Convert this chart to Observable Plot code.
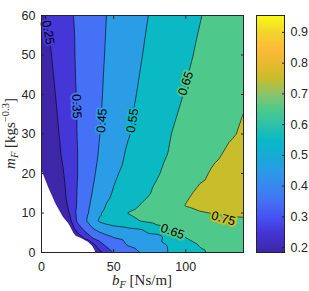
<!DOCTYPE html>
<html><head><meta charset="utf-8">
<script src="https://cdn.jsdelivr.net/npm/d3@7"></script>
<script src="https://cdn.jsdelivr.net/npm/@observablehq/plot@0.6"></script>
<style>
html,body{margin:0;padding:0;background:#fff;}
#wrap{position:relative;width:309px;height:291px;overflow:hidden;background:#fff;}
#wrap svg{position:absolute;top:0;}
</style></head><body><div id="wrap"></div>
<script>
// grid columns (b_F, Ns/m) and rows (m_F)
const bValues = [0,5,10,15,20,25,30,35,40,45,50,60,70,80,90,100,110,120,130,140];
const mValues = [0,2,4,6,8,10,12,15,20,25,30,40,50,60];
// values, one row per mValues entry
const zRows = [
 [0.2,0.2,0.2,0.2,0.2,0.2,0.2,0.2,0.22,0.283,0.355,0.408,0.461,0.513,0.562,0.602,0.638,0.668,0.683,0.69],
 [0.2,0.2,0.2,0.2,0.2,0.2,0.2,0.21,0.31,0.374,0.403,0.457,0.49,0.526,0.564,0.612,0.657,0.675,0.685,0.69],
 [0.2,0.2,0.2,0.2,0.2,0.21,0.27,0.363,0.397,0.43,0.456,0.478,0.505,0.52,0.597,0.655,0.678,0.692,0.7,0.705],
 [0.2,0.2,0.2,0.2,0.2,0.29,0.383,0.44,0.485,0.515,0.527,0.54,0.556,0.615,0.668,0.69,0.703,0.712,0.718,0.722],
 [0.2,0.2,0.2,0.2,0.235,0.37,0.43,0.505,0.558,0.575,0.59,0.623,0.656,0.685,0.705,0.718,0.727,0.733,0.737,0.74],
 [0.2,0.2,0.2,0.2,0.26,0.375,0.42,0.478,0.54,0.572,0.598,0.652,0.682,0.707,0.725,0.738,0.745,0.753,0.758,0.762],
 [0.2,0.2,0.2,0.215,0.275,0.36,0.414,0.465,0.512,0.554,0.575,0.617,0.657,0.69,0.72,0.752,0.768,0.775,0.778,0.78],
 [0.2,0.2,0.205,0.232,0.285,0.357,0.402,0.45,0.49,0.53,0.558,0.594,0.629,0.666,0.703,0.737,0.765,0.78,0.787,0.79],
 [0.2,0.205,0.22,0.246,0.29,0.35,0.392,0.433,0.47,0.502,0.535,0.578,0.612,0.643,0.676,0.707,0.735,0.762,0.778,0.785],
 [0.2,0.21,0.228,0.26,0.305,0.35,0.386,0.421,0.455,0.483,0.51,0.562,0.598,0.627,0.658,0.687,0.714,0.739,0.76,0.772],
 [0.2,0.213,0.235,0.27,0.312,0.353,0.384,0.415,0.447,0.474,0.497,0.544,0.585,0.618,0.65,0.678,0.703,0.725,0.743,0.757],
 [0.205,0.225,0.252,0.287,0.322,0.356,0.384,0.412,0.439,0.463,0.485,0.528,0.566,0.596,0.626,0.655,0.683,0.706,0.727,0.744],
 [0.215,0.238,0.269,0.3,0.332,0.36,0.385,0.408,0.433,0.456,0.475,0.513,0.55,0.579,0.607,0.636,0.663,0.688,0.71,0.728],
 [0.237,0.262,0.288,0.314,0.34,0.363,0.385,0.406,0.428,0.45,0.468,0.503,0.538,0.568,0.594,0.621,0.647,0.672,0.693,0.712]
];
const levels = [0.25,0.35,0.45,0.55,0.65,0.75];
const cMin = 0.184, cMax = 0.955;
// boundary of the blank (no data) region
const holeB = [0,5,10,15,19,20.5,22.5,24,28,32.5,35.5,37,37.5];
const holeM = [21,16.4,12.3,9,7.2,6.2,4.8,4.1,3.5,2.6,1.5,0.6,0];
// contour labels
const labelText = ["0.25","0.35","0.45","0.55","0.65","0.65","0.75"];
const labelLevel = [0.25,0.35,0.45,0.55,0.65,0.65,0.75];
const labelB = [4.6,24.3,41.8,63.1,100,90.8,126];
const labelM = [55.7,37,33.4,33.4,42.8,5.3,8.6];
const labelAngle = [80,88,-86,-81,-72,20,16];
// ticks
const xTicks = [0,50,100];
const yTicks = [0,10,20,30,40,50,60];
const cbTicks = [0.2,0.3,0.4,0.5,0.6,0.7,0.8,0.9];
// parula colormap stops
const parulaStops = [0,0.086,0.15,0.215,0.28,0.345,0.41,0.475,0.54,0.604,0.67,0.734,0.8,0.86,0.93,1];
const parulaColors = ["#3E26A8","#4536D8","#4652F3","#4471F5","#3888F0","#2B9CE6","#16ACD6","#0AB9C4","#2CC2A8","#4FC98B","#8CC46A","#C8BD2B","#E9B92F","#FCBB3A","#F3D52A","#F9FB15"];

const grid = [];
mValues.forEach((m, i) => bValues.forEach((b, j) => grid.push({b, m, v: zRows[i][j]})));
const hole = holeB.map((b, i) => ({b, m: holeM[i]}));
const labels = labelText.map((t, i) => ({t, level: labelLevel[i], b: labelB[i], m: labelM[i], a: labelAngle[i]}));

const colorOpts = {
  type: "linear",
  domain: parulaStops.map(t => cMin + t * (cMax - cMin)),
  range: parulaColors,
  interpolate: "rgb",
  clamp: true
};
const ink = "#262626";
const sans = "'Liberation Sans', Arial, Helvetica, sans-serif";

const main = Plot.plot({
  width: 256, height: 291,
  marginLeft: 41, marginRight: 13, marginTop: 15, marginBottom: 39,
  style: {fontFamily: sans, fontSize: "12.5px", color: ink, background: "transparent"},
  x: {domain: [0, 140], label: null},
  y: {domain: [0, 60], label: null},
  color: colorOpts,
  marks: [
    Plot.contour(grid, {x: "b", y: "m", fill: "v", interpolate: "barycentric",
      thresholds: [cMin, ...levels], stroke: "black", strokeWidth: 0.6, pixelSize: 1}),
    Plot.areaY(hole, {x: "b", y1: 0, y2: "m", fill: "white"}),
    Plot.text(labels, {x: "b", y: "m", text: "t", rotate: "a", fill: "black", stroke: "level",
      strokeWidth: 4, fontSize: 12.5, fontFamily: sans}),
    Plot.axisX(xTicks, {anchor: "bottom", tickSize: 3, dy: -3, fill: "none", stroke: ink, label: null}),
    Plot.axisX(xTicks, {anchor: "top", tickSize: 3, dy: 3, fill: "none", stroke: ink, label: null}),
    Plot.axisY(yTicks, {anchor: "left", tickSize: 3, dx: 3, fill: "none", stroke: ink, label: null}),
    Plot.axisY(yTicks, {anchor: "right", tickSize: 3, dx: -3, fill: "none", stroke: ink, label: null}),
    Plot.axisX(xTicks, {anchor: "bottom", tickSize: 0, tickPadding: 10, fill: ink, label: null}),
    Plot.axisY(yTicks, {anchor: "left", tickSize: 0, tickPadding: 6, fill: ink, label: null}),
    Plot.frame({stroke: ink})
  ]
});
main.style.left = "0px";

const cb = Plot.plot({
  width: 53, height: 291,
  marginLeft: 0, marginRight: 25, marginTop: 15, marginBottom: 39,
  style: {fontFamily: sans, fontSize: "12.5px", color: ink, background: "transparent"},
  x: {domain: [0, 1], axis: null},
  y: {domain: [cMin, cMax], label: null},
  color: colorOpts,
  marks: [
    Plot.raster({fill: (x, y) => y, x1: 0, x2: 1, y1: cMin, y2: cMax, pixelSize: 1}),
    Plot.axisY(cbTicks, {anchor: "right", tickSize: 3, dx: -3, fill: "none", stroke: ink, label: null}),
    Plot.axisY(cbTicks, {anchor: "right", tickSize: 0, tickPadding: 6, fill: ink, label: null}),
    Plot.frame({stroke: ink})
  ]
});
cb.style.left = "256px";

const wrap = document.getElementById("wrap");
wrap.appendChild(main);
wrap.appendChild(cb);

// axis titles with sub/superscripts
const svg = d3.select(main);
const serif = "'Liberation Serif', 'Times New Roman', serif";
const xl = svg.append("text").attr("x", 142).attr("y", 284.5).attr("text-anchor", "middle")
  .attr("fill", ink).style("font-family", serif).style("font-size", "15px");
xl.append("tspan").attr("font-style", "italic").text("b");
xl.append("tspan").attr("font-style", "italic").attr("font-size", "10.5px").attr("dy", 3).text("F");
xl.append("tspan").attr("dy", -3).text(" [Ns/m]");

const yl = svg.append("text").attr("transform", "translate(15,133.5) rotate(-90)").attr("text-anchor", "middle")
  .attr("fill", ink).style("font-family", serif).style("font-size", "15px");
yl.append("tspan").attr("font-style", "italic").text("m");
yl.append("tspan").attr("font-style", "italic").attr("font-size", "10.5px").attr("dy", 3).text("F");
yl.append("tspan").attr("dy", -3).text(" [kgs");
yl.append("tspan").attr("font-size", "10.5px").attr("dy", -6).text("\u22120.3");
yl.append("tspan").attr("dy", 6).text("]");
</script>
</body></html>
